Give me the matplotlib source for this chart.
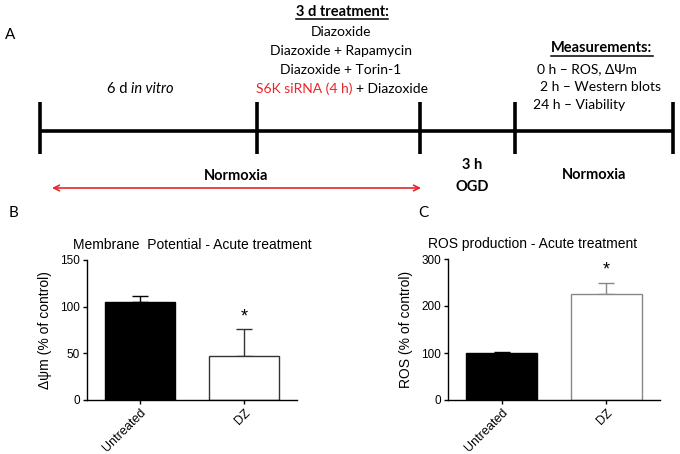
import numpy as np
import matplotlib.pyplot as plt

# ===== DATA =====
groups = ["Untreated", "DZ"]
mmp_mean = [105, 47]      # panel B, % of control
mmp_err = [6, 29]
ros_mean = [100, 225]     # panel C, % of control
ros_err = [2, 25]

# timeline (panel A), in pixel units of the overlay
timeline_ticks = [40, 257, 420, 515, 673]
treatments = ["Diazoxide", "Diazoxide + Rapamycin", "Diazoxide + Torin-1"]
measurements = ["0 h \u2013 ROS, \u0394\u03a8m", "2 h \u2013 Western blots", "24 h \u2013 Viability"]
meas_x = [537, 540, 533]

W, H = 680, 454
fig = plt.figure(figsize=(W / 100, H / 100), dpi=100)

# ===== PANEL A: schematic =====
ax0 = fig.add_axes([0, 0, 1, 1])
ax0.set_xlim(0, W)
ax0.set_ylim(H, 0)
ax0.axis("off")

cal = "Lato"
ax0.plot([timeline_ticks[0], timeline_ticks[-1]], [131, 131], color="black", lw=2.6, solid_capstyle="butt")
for t in timeline_ticks:
    ax0.plot([t, t], [102, 154], color="black", lw=2.6, solid_capstyle="butt")

ax0.text(10, 35, "A", fontsize=11, family=cal, ha="center", va="center")

t1 = ax0.text(342, 12, "3 d treatment:", fontsize=10.5, family=cal, weight="bold", ha="center", va="center")
for i, s in enumerate(treatments):
    ax0.text(341, 32 + 19 * i, s, fontsize=10, family=cal, ha="center", va="center")

t2 = ax0.text(602, 48, "Measurements:", fontsize=10.5, family=cal, weight="bold", ha="center", va="center")
for i, s in enumerate(measurements):
    ax0.text(meas_x[i], 69 + 18 * i, s, fontsize=10, family=cal, ha="left", va="center")

ax0.text(236, 176, "Normoxia", fontsize=10.5, family=cal, weight="bold", ha="center", va="center")
ax0.text(472, 165, "3 h", fontsize=10.5, family=cal, weight="bold", ha="center", va="center")
ax0.text(472, 187, "OGD", fontsize=10.5, family=cal, weight="bold", ha="center", va="center")
ax0.text(594, 175, "Normoxia", fontsize=10.5, family=cal, weight="bold", ha="center", va="center")

ax0.annotate("", xy=(52, 188), xytext=(421, 188),
             arrowprops=dict(arrowstyle="<->", color="#e8262a", lw=1.2, shrinkA=0, shrinkB=0))

fig.canvas.draw()
inv = ax0.transData.inverted()


def xspan(t):
    bb = t.get_window_extent()
    (x0, _), (x1, _) = inv.transform([[bb.x0, bb.y0], [bb.x1, bb.y1]])
    return x0, x1


# mixed-style lines: place pieces side by side, then centre the group
def mixed_line(pieces, xc, y, size=10):
    arts = [ax0.text(0, y, s, fontsize=size, family=cal, ha="left", va="center", **kw)
            for s, kw in pieces]
    fig.canvas.draw()
    widths = [xspan(a)[1] - xspan(a)[0] for a in arts]
    gap = 3.5
    total = sum(widths) + gap * (len(arts) - 1)
    x = xc - total / 2
    for a, w in zip(arts, widths):
        a.set_x(x)
        x += w + gap


mixed_line([("S6K siRNA (4 h)", dict(color="#e8262a")), ("+ Diazoxide", {})], 342, 89)
mixed_line([("6 d", {}), ("in vitro", dict(style="italic"))], 140, 89, size=10.5)

# underline the two headings
fig.canvas.draw()
for t, dy in [(t1, 7), (t2, 8)]:
    x0, x1 = xspan(t)
    yc = t.get_position()[1]
    ax0.plot([x0, x1], [yc + dy, yc + dy], color="black", lw=1.1)

ax0.text(13, 213, "B", fontsize=11, family=cal, ha="center", va="center")
ax0.text(423, 213, "C", fontsize=11, family=cal, ha="center", va="center")

# ===== PANELS B, C: bar charts =====
arial = "Liberation Sans"


def bar_panel(rect, means, errs, ymax, yticks, title, ylabel, dz_edge, title_x):
    ax = fig.add_axes(rect)
    x = np.arange(len(groups))
    ax.bar(x, means, width=0.673, color=["black", "white"],
           edgecolor=["black", dz_edge], linewidth=1.0, zorder=2)
    for xi, m, e, ec in zip(x, means, errs, ["black", dz_edge]):
        ax.errorbar(xi, m, yerr=[[0], [e]], color=ec, capsize=6, elinewidth=1.0,
                    capthick=1.0, zorder=1)
    ax.annotate("*", xy=(x[1], means[1] + errs[1]), xytext=(0, 9), textcoords="offset points",
                ha="center", va="center", fontsize=13, family=arial)
    ax.set_xlim(-0.51, 1.51)
    ax.set_ylim(0, ymax)
    ax.set_yticks(yticks)
    ax.set_xticks(x)
    ax.set_xticklabels(groups, rotation=45, ha="right", rotation_mode="anchor",
                       fontsize=9, family=arial)
    for lab in ax.get_yticklabels():
        lab.set_family(arial)
        lab.set_fontsize(8.5)
    ax.tick_params(direction="out", length=3, width=1.0, pad=2)
    ax.spines["top"].set_visible(False)
    ax.spines["right"].set_visible(False)
    ax.spines["left"].set_linewidth(1.0)
    ax.spines["bottom"].set_linewidth(1.0)
    ax.set_ylabel(ylabel, fontsize=10, family=arial, labelpad=6)
    ax.set_title(title, fontsize=10, family=arial, x=title_x, pad=8)
    return ax


bar_panel([87 / W, 1 - 400 / H, 210 / W, 140 / H], mmp_mean, mmp_err, 150, [0, 50, 100, 150],
          "Membrane  Potential - Acute treatment", "\u0394\u03c8m (% of control)", "#333333", 0.5)
bar_panel([448 / W, 1 - 400 / H, 212 / W, 141 / H], ros_mean, ros_err, 300, [0, 100, 200, 300],
          "ROS production - Acute treatment", "ROS (% of control)", "#888888", 0.4)

fig.savefig("out.png", dpi=100)
